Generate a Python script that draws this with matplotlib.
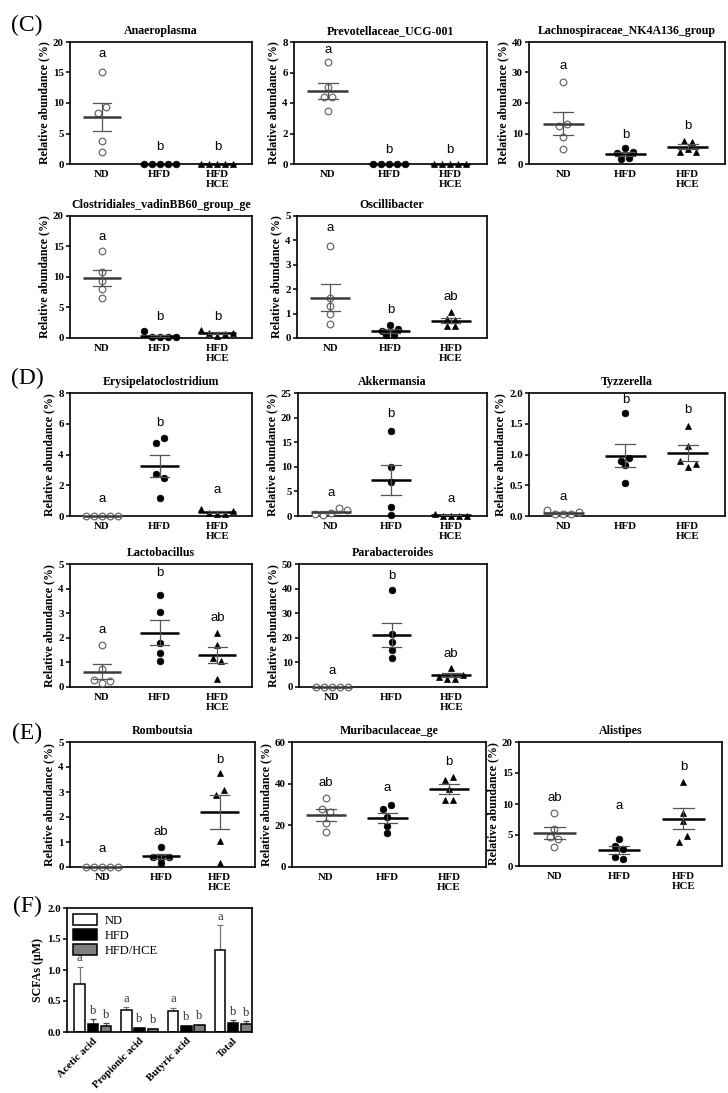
import numpy as np
import matplotlib
matplotlib.use('Agg')
import matplotlib.pyplot as plt

plt.rcParams['font.family'] = ['Liberation Serif', 'DejaVu Serif']

W, H = 728, 1093
groups = ['ND', 'HFD', 'HFD\nHCE']

# dot plots: one list per group (ND, HFD, HFD/HCE), values in %
anaeroplasma = [[15.1, 8.4, 9.3, 3.8, 1.9], [0, 0, 0, 0, 0], [0, 0, 0, 0, 0]]
prevotellaceae = [[6.7, 5.05, 4.4, 4.4, 3.5], [0, 0, 0, 0, 0], [0, 0, 0, 0, 0]]
lachnospiraceae = [[27.0, 12.5, 13.2, 8.7, 4.8], [3.7, 5.1, 3.8, 1.8, 1.9],
                   [7.7, 7.3, 4.0, 5.0, 4.0]]
clostridiales = [[14.2, 10.9, 9.4, 8.1, 6.5], [1.1, 0.1, 0.1, 0.1, 0.1],
                 [1.3, 0.9, 0.4, 0.7, 0.9]]
oscillibacter = [[3.78, 1.62, 1.3, 0.97, 0.58], [0.30, 0.53, 0.38, 0.13, 0.13],
                 [1.07, 0.77, 0.72, 0.49, 0.49]]
erysipelato = [[0, 0, 0, 0, 0], [4.75, 5.1, 2.75, 2.5, 1.2],
               [0.48, 0.2, 0.1, 0.15, 0.35]]
akkermansia = [[0.5, 0.3, 0.6, 1.6, 1.3], [17.2, 10.0, 7.0, 1.8, 0.2],
               [0.4, 0.1, 0.05, 0.05, 0.1]]
tyzzerella = [[0.1, 0.03, 0.03, 0.04, 0.07], [1.68, 0.9, 0.95, 0.83, 0.54],
              [1.46, 1.14, 0.89, 0.79, 0.84]]
lactobacillus = [[1.72, 0.72, 0.27, 0.18, 0.24], [3.73, 3.05, 1.77, 1.4, 1.07],
                 [2.2, 1.72, 1.17, 1.05, 0.33]]
parabacteroides = [[0.2, 0.2, 0.2, 0.2, 0.2], [39.3, 21.5, 18.2, 15.0, 11.8],
                   [7.8, 4.2, 3.3, 3.4, 4.8]]
romboutsia = [[0, 0, 0, 0, 0], [0.82, 0.4, 0.36, 0.42, 0.15],
              [3.78, 2.9, 3.1, 1.05, 0.15]]
muribaculaceae = [[33.3, 27.8, 26.2, 21.0, 17.0], [27.8, 30.0, 24.1, 19.8, 16.1],
                  [41.8, 43.4, 37.3, 32.2, 32.2]]
alistipes = [[8.5, 5.9, 4.75, 4.4, 3.1], [4.35, 3.2, 2.8, 1.5, 1.1],
             [13.5, 8.5, 7.2, 3.9, 4.9]]

# SCFAs (panel F)
acids = ['Acetic acid', 'Propionic acid', 'Butyric acid', 'Total']
scfa_nd = [0.78, 0.35, 0.34, 1.33]
scfa_nd_err = [0.27, 0.05, 0.05, 0.39]
scfa_hfd = [0.13, 0.06, 0.09, 0.15]
scfa_hfd_err = [0.08, 0.01, 0.01, 0.04]
scfa_hce = [0.09, 0.05, 0.11, 0.13]
scfa_hce_err = [0.05, 0.005, 0.01, 0.04]
scfa_letters = [['a', 'b', 'b'], ['a', 'b', 'b'], ['a', 'b', 'b'], ['a', 'b', 'b']]

fig = plt.figure(figsize=(W / 100, H / 100), dpi=100)


def add_ax(l, t, r, b):
    return fig.add_axes([l / W, 1 - b / H, (r - l) / W, (b - t) / H])


def swarm(vals, ypx, sep=8.0, tol=6.5):
    # rows of overlapping points, centred like a scatter dot plot
    order = sorted(range(len(vals)), key=lambda i: -vals[i])
    rows = []
    for i in order:
        if rows and (vals[rows[-1][0]] - vals[i]) * ypx < tol:
            rows[-1].append(i)
        else:
            rows.append([i])
    off = [0.0] * len(vals)
    for row in rows:
        row = sorted(row)
        n = len(row)
        for k, i in enumerate(row):
            off[i] = (k - (n - 1) / 2) * sep
    return off


def dot_panel(box, title, data, ymax, ystep, letters, letter_y, fmt='%g'):
    ax = add_ax(*box)
    xlo, xhi = -0.55, 2.6
    ax.set_xlim(xlo, xhi)
    ax.set_ylim(0, ymax)
    ypx = (box[3] - box[1]) / ymax
    xpx = (box[2] - box[0]) / (xhi - xlo)
    styles = [dict(marker='o', mfc='white', mec='#6a6a6a', ms=4.8, mew=0.9),
              dict(marker='o', mfc='black', mec='black', ms=4.8, mew=0.5),
              dict(marker='^', mfc='black', mec='black', ms=5.0, mew=0.5)]
    for g, vals in enumerate(data):
        off = swarm(vals, ypx)
        xs = [g + o / xpx for o in off]
        ax.plot(xs, vals, ls='none', clip_on=False, zorder=3, **styles[g])
        m = np.mean(vals)
        se = np.std(vals, ddof=1) / np.sqrt(len(vals))
        mc = '#3a3a3a' if g == 0 else 'black'
        ax.plot([g - 0.33, g + 0.33], [m, m], color=mc, lw=1.8, zorder=4,
                clip_on=False, solid_capstyle='butt')
        ax.plot([g, g], [m - se, m + se], color='#555555', lw=0.9, zorder=4)
        ax.plot([g - 0.16, g + 0.16], [m + se] * 2, color='#555555', lw=0.9, zorder=4)
        ax.plot([g - 0.16, g + 0.16], [m - se] * 2, color='#555555', lw=0.9, zorder=4)
        ax.text(g, letter_y[g], letters[g], ha='center', va='center',
                family=['Liberation Sans', 'DejaVu Sans'], fontsize=9.5)
    ax.set_yticks(np.arange(0, ymax + ystep / 2, ystep))
    ax.yaxis.set_major_formatter(matplotlib.ticker.FormatStrFormatter(fmt))
    ax.set_xticks(range(3))
    ax.set_xticklabels(groups, fontweight='bold', fontsize=7.8, linespacing=1.2)
    ax.tick_params(axis='x', length=0, pad=4)
    ax.tick_params(axis='y', length=3, width=1.1, labelsize=7.8, pad=1.5)
    for lab in ax.get_yticklabels():
        lab.set_fontweight('bold')
    for s in ax.spines.values():
        s.set_linewidth(1.2)
    ax.set_ylabel('Relative abundance (%)', fontweight='bold', fontsize=8.6, labelpad=2)
    ax.set_title(title, fontweight='bold', fontsize=8.6, pad=6)
    return ax


# (C)
dot_panel((70, 42, 252, 164), 'Anaeroplasma', anaeroplasma, 20, 5,
          ['a', 'b', 'b'], [18.1, 2.8, 2.8])
dot_panel((294, 42, 487, 164), 'Prevotellaceae_UCG-001', prevotellaceae, 8, 2,
          ['a', 'b', 'b'], [7.5, 0.92, 0.92])
dot_panel((529, 42, 725, 164), 'Lachnospiraceae_NK4A136_group', lachnospiraceae, 40, 10,
          ['a', 'b', 'b'], [32.0, 9.5, 12.4])
dot_panel((70, 216, 252, 338), 'Clostridiales_vadinBB60_group_ge', clostridiales, 20, 5,
          ['a', 'b', 'b'], [16.6, 3.4, 3.4])
dot_panel((297, 216, 487, 338), 'Oscillibacter', oscillibacter, 5, 1,
          ['a', 'b', 'ab'], [4.5, 1.15, 1.68])
# (D)
dot_panel((70, 393, 252, 516), 'Erysipelatoclostridium', erysipelato, 8, 2,
          ['a', 'b', 'a'], [1.09, 6.03, 1.66])
dot_panel((298, 393, 487, 516), 'Akkermansia', akkermansia, 25, 5,
          ['a', 'b', 'a'], [4.7, 20.7, 3.5])
dot_panel((529, 393, 725, 516), 'Tyzzerella', tyzzerella, 2.0, 0.5,
          ['a', 'b', 'b'], [0.31, 1.89, 1.73], fmt='%.1f')
dot_panel((70, 564, 252, 687), 'Lactobacillus', lactobacillus, 5, 1,
          ['a', 'b', 'ab'], [2.31, 4.65, 2.79])
dot_panel((299, 564, 487, 687), 'Parabacteroides', parabacteroides, 50, 10,
          ['a', 'b', 'ab'], [6.4, 45.2, 13.6])
# (E)
dot_panel((70, 742, 255, 867), 'Romboutsia', romboutsia, 5, 1,
          ['a', 'ab', 'b'], [0.7, 1.41, 4.29])
dot_panel((292, 742, 486, 867), 'Muribaculaceae_ge', muribaculaceae, 60, 20,
          ['ab', 'a', 'b'], [40.2, 38.1, 50.2])
dot_panel((519, 742, 722, 866), 'Alistipes', alistipes, 20, 5,
          ['ab', 'a', 'b'], [10.9, 9.6, 16.0])

# (F) SCFAs bars
axf = add_ax(67, 908, 252, 1032)
xg = np.arange(len(acids))
bw, dx = 0.22, 0.28
axf.bar(xg - dx, scfa_nd, bw, color='white', edgecolor='black', lw=1.1, label='ND', zorder=2)
axf.bar(xg, scfa_hfd, bw, color='black', edgecolor='black', lw=1.1, label='HFD', zorder=2)
axf.bar(xg + dx, scfa_hce, bw, color='#7f7f7f', edgecolor='black', lw=1.1,
        label='HFD/HCE', zorder=2)
for off, vals, errs, col in [(-dx, scfa_nd, scfa_nd_err, '#777777'),
                             (0, scfa_hfd, scfa_hfd_err, '#444444'),
                             (dx, scfa_hce, scfa_hce_err, '#444444')]:
    axf.errorbar(xg + off, vals, yerr=[np.zeros(len(vals)), errs], fmt='none',
                 ecolor=col, elinewidth=0.9, capsize=2.2, capthick=0.9, zorder=1)
tops = [np.add(scfa_nd, scfa_nd_err), np.add(scfa_hfd, scfa_hfd_err),
        np.add(scfa_hce, scfa_hce_err)]
for i in range(len(acids)):
    for j, off in enumerate([-dx, 0, dx]):
        axf.text(xg[i] + off, tops[j][i] + 0.04, scfa_letters[i][j], ha='center',
                 va='bottom', fontsize=9, color='#333333')
axf.set_xlim(-0.55, 3.4)
axf.set_ylim(0, 2.0)
axf.set_yticks(np.arange(0, 2.01, 0.5))
axf.yaxis.set_major_formatter(matplotlib.ticker.FormatStrFormatter('%.1f'))
axf.set_xticks(xg)
axf.set_xticklabels(acids, rotation=45, ha='right', rotation_mode='anchor',
                    fontweight='bold', fontsize=7.8)
axf.tick_params(axis='x', length=0, pad=3)
axf.tick_params(axis='y', length=3, width=1.1, labelsize=7.8, pad=1.5)
for lab in axf.get_yticklabels():
    lab.set_fontweight('bold')
for s in axf.spines.values():
    s.set_linewidth(1.2)
axf.set_ylabel('SCFAs (\u03bcM)', fontweight='bold', fontsize=8.6, labelpad=2)
axf.legend(loc='upper left', frameon=False, fontsize=9, handlelength=1.9,
           handleheight=0.9, borderaxespad=0.1, labelspacing=0.2, handletextpad=0.6)

# panel letters
for lab, y in [('(C)', 25), ('(D)', 378), ('(E)', 733), ('(F)', 906)]:
    fig.text(27 / W, 1 - y / H, lab, fontsize=17, ha='center', va='center')

fig.savefig('out.png', dpi=100)
